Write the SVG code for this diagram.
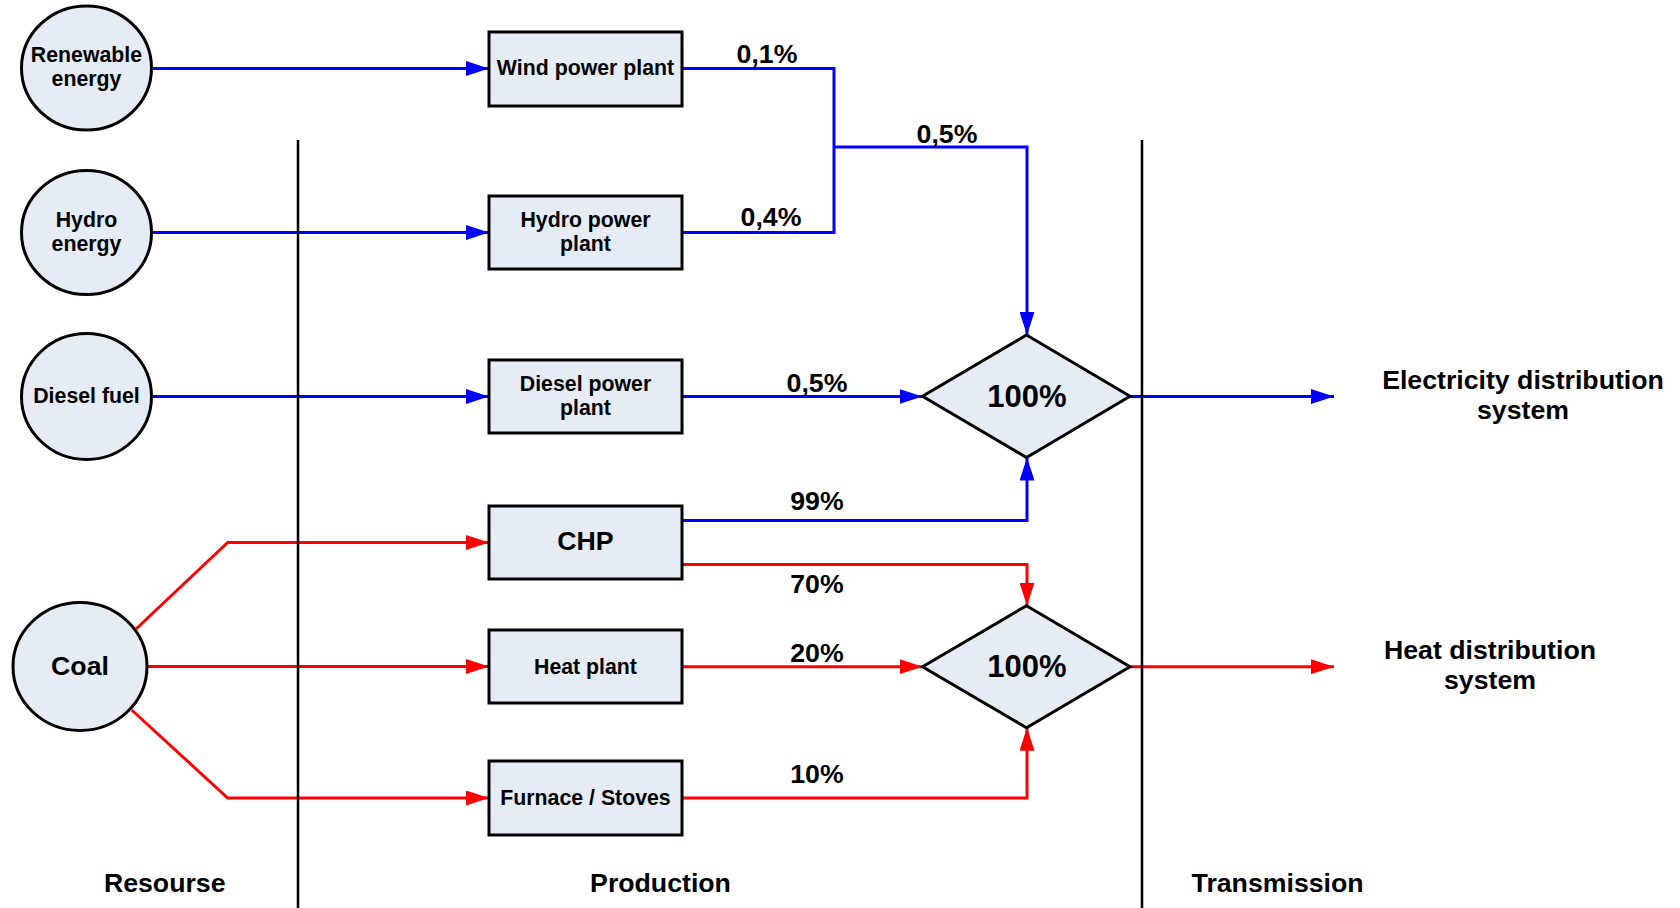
<svg xmlns="http://www.w3.org/2000/svg" width="1680" height="908" viewBox="0 0 1680 908">
<style>
text{font-family:"Liberation Sans",Arial,sans-serif;font-weight:bold;fill:#000;text-anchor:middle}
.n{font-size:21.3px}
.l{font-size:26.7px}
.d{font-size:31px}
.shape{fill:#E6ECF6;stroke:#000;stroke-width:3}
.b{fill:none;stroke:#0000FF;stroke-width:3}
.r{fill:none;stroke:#FF0000;stroke-width:3}
.sep{stroke:#000;stroke-width:2.5}
</style>
<defs>
<marker id="ab" markerUnits="userSpaceOnUse" markerWidth="23" markerHeight="15" refX="23" refY="7.5" orient="auto"><path d="M0,0 L23,7.5 L0,15 z" fill="#0000FF"/></marker>
<marker id="ar" markerUnits="userSpaceOnUse" markerWidth="23" markerHeight="15" refX="23" refY="7.5" orient="auto"><path d="M0,0 L23,7.5 L0,15 z" fill="#FF0000"/></marker>
</defs>
<rect width="1680" height="908" fill="#fff"/>

<g id="connectors">
<path class="b" d="M151,68.5 H489" marker-end="url(#ab)"/>
<path class="b" d="M151,232.5 H489" marker-end="url(#ab)"/>
<path class="b" d="M151,396.5 H489" marker-end="url(#ab)"/>
<path class="r" d="M136,629 L227.7,542.5 H489" marker-end="url(#ar)"/>
<path class="r" d="M147,666.5 H489" marker-end="url(#ar)"/>
<path class="r" d="M131.7,710 L227.7,798 H489" marker-end="url(#ar)"/>
<path class="b" d="M682,68.5 H834 V232.5 H682"/>
<path class="b" d="M834,147 H1027 V335" marker-end="url(#ab)"/>
<path class="b" d="M682,396.5 H922.5" marker-end="url(#ab)"/>
<path class="b" d="M682,520.5 H1027 V457.5" marker-end="url(#ab)"/>
<path class="r" d="M682,564.5 H1027 V605.7" marker-end="url(#ar)"/>
<path class="r" d="M682,666.7 H922.5" marker-end="url(#ar)"/>
<path class="r" d="M682,798 H1027 V727.7" marker-end="url(#ar)"/>
<path class="b" d="M1130,396.5 H1334" marker-end="url(#ab)"/>
<path class="r" d="M1130,666.7 H1334" marker-end="url(#ar)"/>
</g>

<g id="separators">
<line class="sep" x1="298" y1="140" x2="298" y2="908"/>
<line class="sep" x1="1142" y1="140" x2="1142" y2="908"/>
</g>

<g id="labels">
<text class="l" x="767" y="63.3">0,1%</text>
<text class="l" x="771" y="226">0,4%</text>
<text class="l" x="947" y="142.7">0,5%</text>
<text class="l" x="817" y="391.7">0,5%</text>
<text class="l" x="817" y="510">99%</text>
<text class="l" x="817" y="593.3">70%</text>
<text class="l" x="817" y="661.7">20%</text>
<text class="l" x="817" y="782.6">10%</text>
</g>

<g id="renewable"><ellipse class="shape" cx="86.5" cy="68" rx="65" ry="62"/><text class="n" x="86.5" y="62">Renewable</text><text class="n" x="86.5" y="86">energy</text></g>
<g id="hydro"><ellipse class="shape" cx="86.5" cy="232.5" rx="65" ry="62"/><text class="n" x="86.5" y="226.7">Hydro</text><text class="n" x="86.5" y="250.7">energy</text></g>
<g id="diesel"><ellipse class="shape" cx="86.5" cy="396.5" rx="65" ry="63"/><text class="n" x="86.5" y="403">Diesel fuel</text></g>
<g id="coal"><ellipse class="shape" cx="80" cy="666.5" rx="67" ry="64"/><text class="l" x="80" y="674.5">Coal</text></g>

<g id="wind-plant"><rect class="shape" x="489" y="32" width="193" height="74"/><text class="n" x="585.5" y="75.3">Wind power plant</text></g>
<g id="hydro-plant"><rect class="shape" x="489" y="196" width="193" height="73"/><text class="n" x="585.5" y="226.7">Hydro power</text><text class="n" x="585.5" y="250.7">plant</text></g>
<g id="diesel-plant"><rect class="shape" x="489" y="360" width="193" height="73"/><text class="n" x="585.5" y="390.7">Diesel power</text><text class="n" x="585.5" y="415">plant</text></g>
<g id="chp"><rect class="shape" x="489" y="506" width="193" height="73"/><text class="l" x="585.5" y="550">CHP</text></g>
<g id="heat-plant"><rect class="shape" x="489" y="630" width="193" height="73"/><text class="n" x="585.5" y="673.5">Heat plant</text></g>
<g id="furnace"><rect class="shape" x="489" y="761" width="193" height="74"/><text class="n" x="585.5" y="805">Furnace / Stoves</text></g>

<g id="electricity-hub"><polygon class="shape" points="1026.5,335 1130,396.3 1026.5,457.5 922.5,396.3"/><text class="d" x="1027" y="406.7">100%</text></g>
<g id="heat-hub"><polygon class="shape" points="1026.5,605.7 1130,666.7 1026.5,727.7 922.5,666.7"/><text class="d" x="1027" y="677">100%</text></g>

<g id="electricity-system"><text class="l" x="1523" y="389.3">Electricity distribution</text><text class="l" x="1523" y="419.3">system</text></g>
<g id="heat-system"><text class="l" x="1490" y="658.5">Heat distribution</text><text class="l" x="1490" y="689.3">system</text></g>

<g id="columns">
<text class="l" x="164.7" y="891.7">Resourse</text>
<text class="l" x="660.5" y="891.7">Production</text>
<text class="l" x="1277.6" y="891.7">Transmission</text>
</g>
</svg>
